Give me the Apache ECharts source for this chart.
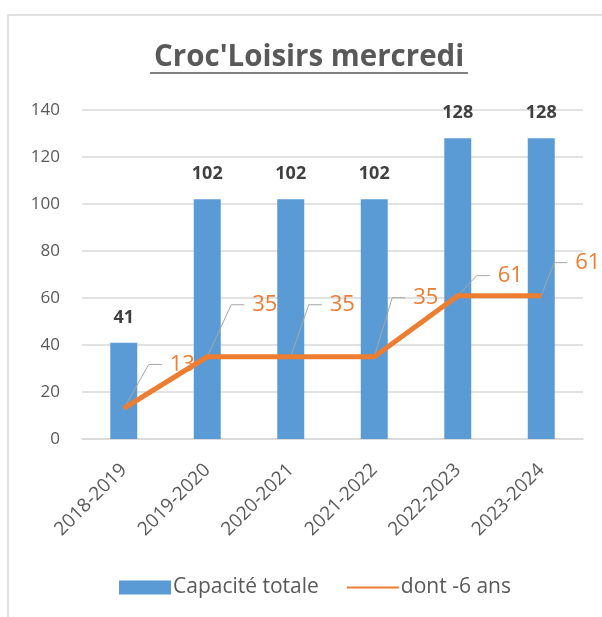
<!DOCTYPE html>
<html>
<head>
<meta charset="utf-8">
<script src="https://cdn.jsdelivr.net/npm/echarts@6/dist/echarts.min.js"></script>
<style>
  html, body { margin: 0; padding: 0; background: #fff; }
  #main { width: 602px; height: 617px; }
</style>
</head>
<body>
<div id="main"></div>
<script>
var categories = ['2018-2019', '2019-2020', '2020-2021', '2021-2022', '2022-2023', '2023-2024'];
var capaciteTotale = [41, 102, 102, 102, 128, 128];
var moinsDe6Ans = [13, 35, 35, 35, 61, 61];
var yTicks = { min: 0, max: 140, step: 20 };

// where each orange label sits, relative to its point (Excel moved them by hand)
var labelShift = [[46, -44], [45, -52], [39, -52], [39, -59], [40, -20], [34, -33]];

var myChart = echarts.init(document.getElementById('main'));
var font = '"Open Sans", sans-serif';
var orange = '#ed7d31';

// orange labels with their grey leader lines, placed from the axis coords
function renderLabel(params, api) {
    var i = api.value(0);
    var p = api.coord([i, api.value(1)]);
    var s = labelShift[i];
    var lx = p[0] + s[0];
    var ly = p[1] + s[1];
    return {
        type: 'group',
        children: [
            {
                type: 'polyline',
                shape: { points: [p, [lx - 21, ly], [lx - 8, ly]] },
                style: { stroke: '#a6a6a6', lineWidth: 1, fill: 'none' }
            },
            {
                type: 'text',
                style: {
                    text: String(api.value(1)),
                    x: lx,
                    y: ly,
                    fill: orange,
                    fontSize: 22,
                    fontFamily: font,
                    align: 'left',
                    verticalAlign: 'middle'
                }
            }
        ]
    };
}

option = {
    animation: false,
    textStyle: { fontFamily: font },
    title: {
        text: "Croc'Loisirs mercredi",
        left: 149,
        top: 38,
        textStyle: { fontSize: 29.5, fontWeight: 'bold', color: '#595959', fontFamily: font }
    },
    graphic: [
        {
            type: 'rect',
            shape: { x: 8, y: 15, width: 700, height: 700 },
            style: { fill: 'none', stroke: '#d9d9d9', lineWidth: 1.5 },
            silent: true
        },
        {
            type: 'line',
            shape: { x1: 150, y1: 73, x2: 468, y2: 73 },
            style: { stroke: '#595959', lineWidth: 1.5 },
            silent: true
        }
    ],
    legend: {
        top: 572,
        left: 114,
        itemWidth: 52,
        itemHeight: 14,
        itemGap: 27,
        textStyle: { fontSize: 21, color: '#595959', fontFamily: font, padding: [0, 0, 0, -3] },
        data: [
            { name: 'Capacité totale', icon: 'rect' },
            { name: 'dont -6 ans', itemStyle: { opacity: 0 } }
        ]
    },
    grid: { left: 82, right: 19, top: 110, bottom: 178 },
    xAxis: {
        type: 'category',
        data: categories,
        axisLine: { lineStyle: { color: '#d9d9d9', width: 1.5 } },
        axisTick: { show: false },
        axisLabel: { rotate: 45, fontSize: 19, color: '#595959', margin: 28, interval: 0 }
    },
    yAxis: {
        type: 'value',
        min: yTicks.min,
        max: yTicks.max,
        interval: yTicks.step,
        axisLine: { show: false },
        axisTick: { show: false },
        axisLabel: { fontSize: 17, color: '#595959', margin: 22 },
        splitLine: { lineStyle: { color: '#d9d9d9', width: 1.5 } }
    },
    series: [
        {
            name: 'Capacité totale',
            type: 'bar',
            data: capaciteTotale,
            barWidth: 27,
            itemStyle: { color: '#5b9bd5' },
            label: {
                show: true,
                position: 'top',
                distance: 16,
                fontSize: 18,
                fontWeight: 'bold',
                color: '#404040'
            },
            z: 2
        },
        {
            name: 'dont -6 ans',
            type: 'line',
            data: moinsDe6Ans,
            symbol: 'none',
            itemStyle: { color: orange },
            lineStyle: { color: orange, width: 5 },
            z: 4
        },
        {
            name: 'labels',
            type: 'custom',
            data: moinsDe6Ans.map(function (v, i) { return [i, v]; }),
            renderItem: renderLabel,
            silent: true,
            z: 3
        }
    ]
};
myChart.setOption(option);
</script>
</body>
</html>
